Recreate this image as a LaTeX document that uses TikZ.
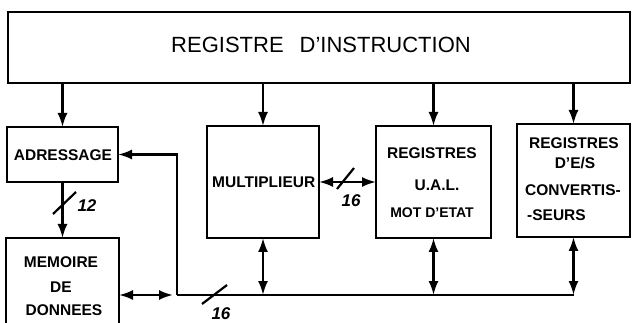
\documentclass[tikz,border=0pt]{standalone}
\usepackage{fontspec}
\setmainfont{Liberation Sans}
\usetikzlibrary{arrows.meta}
\tikzset{
  box/.style={draw, line width=2.2pt, inner sep=0pt, outer sep=0pt, anchor=north west},
  lbl/.style={inner sep=0pt, font=\fontsize{15.5}{15.5}\selectfont\bfseries},
  wire/.style={line width=2.2pt},
  arr/.style={wire, -{Latex[length=14pt,width=10pt]}},
  dbl/.style={wire, {Latex[length=14pt,width=10pt]}-{Latex[length=14pt,width=10pt]}},
  num/.style={inner sep=0pt, font=\fontsize{17}{17}\selectfont\bfseries\itshape},
}
\begin{document}
\begin{tikzpicture}[x=1pt,y=-1pt]
\useasboundingbox (0,0) rectangle (632,323);
\clip (0,0) rectangle (632,323);
\fill[white] (0,0) rectangle (632,323);
% boxes
\node[box, minimum width=622pt, minimum height=71pt] (ir) at (8,12) {};
\node[box, minimum width=111pt, minimum height=55pt] (adr) at (7,127) {};
\node[box, minimum width=113pt, minimum height=95pt] (mem) at (6,238) {};
\node[box, minimum width=112pt, minimum height=112pt] (mul) at (207,126) {};
\node[box, minimum width=115pt, minimum height=112pt] (ual) at (376,126) {};
\node[box, minimum width=113pt, minimum height=113pt] (es) at (517,124) {};
% texts
\node[inner sep=0pt, font=\fontsize{22}{22}\selectfont] (irt) at (321,45) {REGISTRE\hspace{16pt}D'INSTRUCTION};
\node[lbl] (adrt) at (63,155) {ADRESSAGE};
\node[lbl] (memt1) at (61,262) {MEMOIRE};
\node[lbl] (memt2) at (61,287) {DE};
\node[lbl] (memt3) at (64,310) {DONNEES};
\node[lbl, anchor=west] (mult) at (212,182) {MULTIPLIEUR};
\node[lbl] (ualt1) at (432,153) {REGISTRES};
\node[lbl] (ualt2) at (437,185) {U.A.L.};
\node[lbl, font=\fontsize{14}{14}\selectfont\bfseries] (ualt3) at (432,213) {MOT D'ETAT};
\node[lbl] (est1) at (574,143) {REGISTRES};
\node[lbl] (est2) at (575,163) {D'E/S};
\node[lbl, anchor=west] (est3) at (525,190) {CONVERTIS-};
\node[lbl, anchor=west] (est4) at (527,215) {-SEURS};
% connectors from instruction register
\draw[arr] (adr.north |- ir.south) -- (adr.north);
\draw[arr] (mul.north |- ir.south) -- (mul.north);
\draw[arr] (ual.north |- ir.south) -- (ual.north);
\draw[arr] (es.north |- ir.south) -- (es.north);
% address to memory
\draw[arr] (adr.south) -- (mem.north -| adr.south);
% bus
\coordinate (j) at (177,295);
\draw[dbl, shorten >=4pt] (mem.east |- j) -- (j);
\draw[arr] (j) |- (adr.east);
\draw[wire, rounded corners=3pt] (j) -- (es.south |- j);
\draw[dbl] (mul.south) -- (mul.south |- j);
\draw[dbl] (ual.south) -- (ual.south |- j);
\draw[dbl] (es.south) -- (es.south |- j);
% multiplier <-> UAL
\draw[dbl] (mul.east) -- (ual.west);
% width marks
\draw[wire] (53,214) -- (76,192);
\node[num] (n12) at (87,206) {12};
\draw[wire] (337,189) -- (354,168);
\node[num] (n16a) at (351,201) {16};
\draw[wire] (202,304) -- (227,285);
\node[num] (n16b) at (221,314) {16};
\end{tikzpicture}
\end{document}
